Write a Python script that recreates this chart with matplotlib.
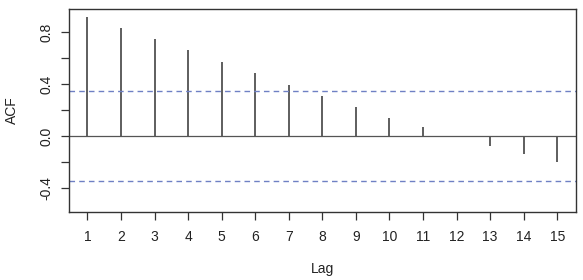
import matplotlib
matplotlib.use("Agg")
from matplotlib import pyplot as plt

lags = [1, 2, 3, 4, 5, 6, 7, 8, 9, 10, 11, 12, 13, 14, 15]
acf = [0.918, 0.833, 0.746, 0.662, 0.572, 0.485, 0.395, 0.308,
       0.221, 0.141, 0.067, -0.004, -0.075, -0.141, -0.202]
conf = 0.346
yticks = [-0.4, -0.2, 0.0, 0.2, 0.4, 0.6, 0.8]
ylabels = ["-0.4", "", "0.0", "", "0.4", "", "0.8"]

plt.rcParams["font.family"] = ["Liberation Sans", "DejaVu Sans"]
plt.rcParams["font.size"] = 10

fig = plt.figure(figsize=(5.83, 2.80), dpi=100)
ax = fig.add_axes([0.1184, 0.244, 0.8696, 0.723])

ax.vlines(lags, 0, acf, color="#333333", lw=1.1)
ax.axhline(0, color="#555555", lw=0.9)
ax.axhline(conf, color="#6f80c4", lw=1.0, ls=(0, (4, 3)))
ax.axhline(-conf, color="#6f80c4", lw=1.0, ls=(0, (4, 3)))

ax.set_xlim(0.45, 15.56)
ax.set_ylim(-0.582, 0.975)
ax.set_xticks(lags)
ax.set_yticks(yticks)
ax.set_yticklabels(ylabels, rotation=90, va="center")
ax.tick_params(direction="out", length=6, width=0.9, colors="#333333",
               labelcolor="#222222")
ax.tick_params(axis="x", pad=7)
ax.tick_params(axis="y", pad=5)
for s in ax.spines.values():
    s.set_color("#333333")
    s.set_linewidth(1.0)

ax.set_xlabel("Lag", labelpad=13, color="#222222")
ax.set_ylabel("ACF", labelpad=15, color="#222222")

fig.savefig("out.png", dpi=100)
